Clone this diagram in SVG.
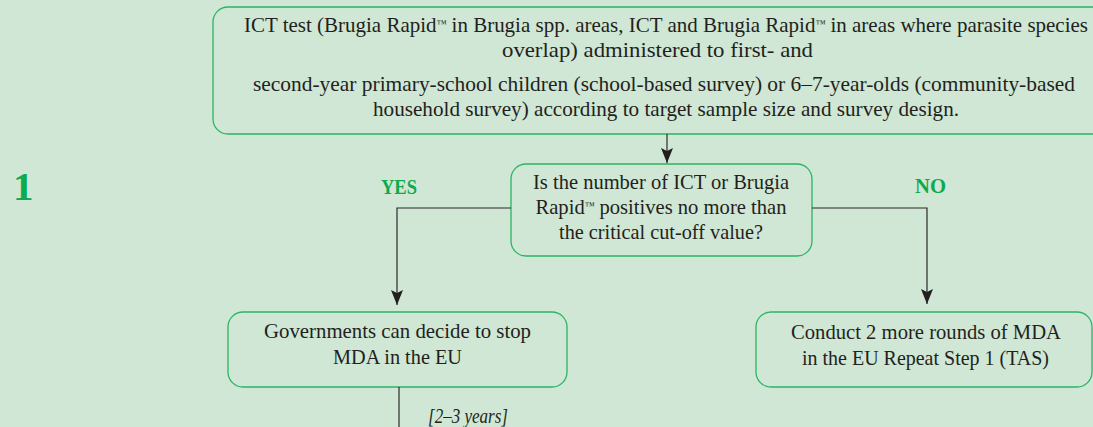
<svg xmlns="http://www.w3.org/2000/svg" width="1093" height="427" viewBox="0 0 1093 427">
<style>
.bg{fill:#cfe7d4}
.box{fill:#cfe7d4;stroke:#2bb463;stroke-width:1.3}
.t{font-family:"Liberation Serif","Times New Roman",serif;font-size:21px;fill:#231f20}
.c{text-anchor:middle}
.tm{font-size:10px;baseline-shift:55%}
.lbl{font-family:"Liberation Serif","Times New Roman",serif;font-weight:bold;fill:#0daa4f}
.ln{fill:none;stroke:#2a2a2a;stroke-width:1.2}
</style>
<defs>
<marker id="ahd" markerUnits="userSpaceOnUse" markerWidth="15" markerHeight="12" refX="15" refY="6" orient="auto" viewBox="0 0 15 12">
<path d="M0,0 L15,6 L0,12 L3,6 Z" fill="#231f20"/>
</marker>
</defs>
<rect class="bg" x="0" y="0" width="1093" height="427"/>
<g id="step-label">
<text class="lbl" x="13" y="200" font-size="41">1</text>
</g>
<g id="top">
<rect class="box" x="213" y="7" width="905" height="127" rx="15"/>
<text class="t" x="244" y="32" textLength="844" lengthAdjust="spacingAndGlyphs">ICT test (Brugia Rapid<tspan class="tm">™</tspan> in Brugia spp. areas, ICT and Brugia Rapid<tspan class="tm">™</tspan> in areas where parasite species</text>
<text class="t" x="502" y="57" textLength="311" lengthAdjust="spacingAndGlyphs">overlap) administered to first- and</text>
<text class="t" x="253" y="91" textLength="822" lengthAdjust="spacingAndGlyphs">second-year primary-school children (school-based survey) or 6–7-year-olds (community-based</text>
<text class="t" x="373" y="116" textLength="586" lengthAdjust="spacingAndGlyphs">household survey) according to target sample size and survey design.</text>
</g>
<g id="decision">
<rect class="box" x="511" y="164" width="301" height="92" rx="15"/>
<text class="t c" x="661" y="189" textLength="256" lengthAdjust="spacingAndGlyphs">Is the number of ICT or Brugia</text>
<text class="t c" x="661" y="214" textLength="251" lengthAdjust="spacingAndGlyphs">Rapid<tspan class="tm">™</tspan> positives no more than</text>
<text class="t c" x="661" y="239" textLength="204" lengthAdjust="spacingAndGlyphs">the critical cut-off value?</text>
</g>
<g id="stop">
<rect class="box" x="228" y="312" width="339" height="75" rx="15"/>
<text class="t c" x="397.5" y="338" textLength="267" lengthAdjust="spacingAndGlyphs">Governments can decide to stop</text>
<text class="t c" x="397.5" y="364" textLength="129" lengthAdjust="spacingAndGlyphs">MDA in the EU</text>
</g>
<g id="repeat">
<rect class="box" x="756" y="312" width="336" height="75" rx="15"/>
<text class="t c" x="926" y="339" textLength="270" lengthAdjust="spacingAndGlyphs">Conduct 2 more rounds of MDA</text>
<text class="t c" x="925.5" y="365" textLength="247" lengthAdjust="spacingAndGlyphs">in the EU Repeat Step 1 (TAS)</text>
</g>
<g id="connectors">
<path class="ln" d="M667,134 V163" marker-end="url(#ahd)"/>
<path class="ln" d="M511,208 H397 V305" marker-end="url(#ahd)"/>
<path class="ln" d="M812,208 H927 V304" marker-end="url(#ahd)"/>
<path class="ln" d="M399,387 V427"/>
<text class="lbl" x="381" y="194" font-size="21" textLength="36" lengthAdjust="spacingAndGlyphs">YES</text>
<text class="lbl" x="915" y="193" font-size="21" textLength="31" lengthAdjust="spacingAndGlyphs">NO</text>
<text class="t" x="428" y="423" font-size="17" font-style="italic" textLength="80" lengthAdjust="spacingAndGlyphs">[2–3 years]</text>
</g>
</svg>
